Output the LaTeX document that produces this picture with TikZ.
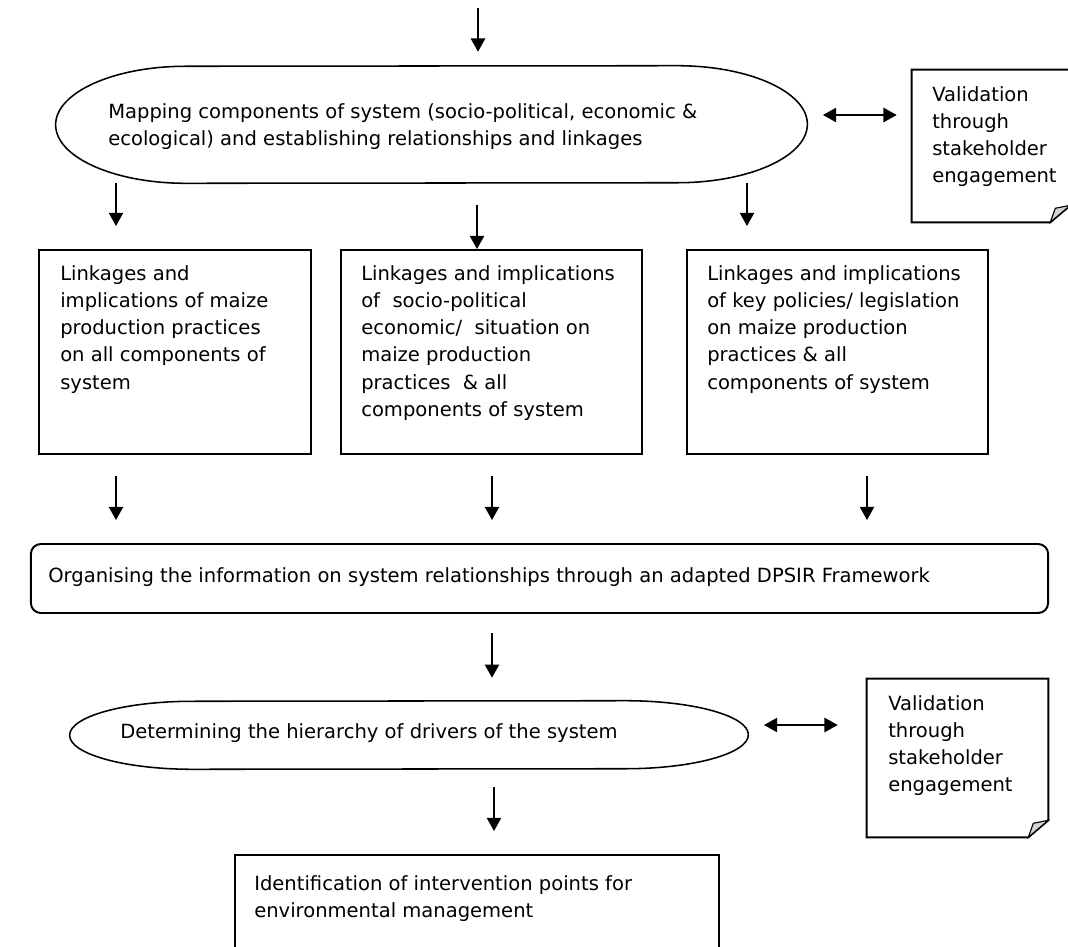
\documentclass[tikz,border=0pt]{standalone}
\usepackage{fontspec}
\setmainfont{DejaVu Sans}
\usepackage{tikz}
\usetikzlibrary{positioning}
\usetikzlibrary{arrows.meta}

\begin{document}
\begin{tikzpicture}[x=0.025cm, y=-0.025cm, >={Triangle[length=0.33cm,width=0.36cm]},
  every node/.style={font=\fontsize{13.9}{19.4}\selectfont},
  txt/.style={inner sep=0pt, align=left},
  box/.style={draw, line width=1.4pt, inner sep=0pt},
  plain/.style={inner sep=0pt},
  ovalline/.style={line width=1.1pt, line join=round},
  noteline/.style={line width=1.4pt},
  flow/.style={->, line width=0.8pt},
  both/.style={<->, line width=0.8pt}]

\useasboundingbox (0,0) rectangle (1068,947);

% mapping step
\node (map) [plain, minimum width=18.775cm, minimum height=2.925cm] at (431.5,124.5) {};
\draw[ovalline] ([xshift=3.25cm]map.south west) arc[start angle=-90, end angle=-270, x radius=3.25cm, y radius=1.4625cm] -- ([xshift=-3.25cm]map.north east) arc[start angle=90, end angle=-90, x radius=3.25cm, y radius=1.4625cm] -- cycle;
\node (maptxt) [txt, anchor=north west] at (108,103) {Mapping components of system (socio-political, economic \&\\ ecological) and establishing relationships and linkages};

% validation note 1
\node (val1) [plain, minimum width=3.95cm, minimum height=3.8cm] at (991,146) {};
\draw[noteline] (val1.north west) -- (val1.north east) -- ([yshift=0.425cm]val1.south east) -- ([xshift=-0.5cm]val1.south east) -- (val1.south west) -- cycle;
\filldraw[fill=gray!35, line width=0.8pt] ([yshift=0.425cm]val1.south east) -- ([xshift=-0.5cm]val1.south east) -- ([shift={(-0.375cm,0.35cm)}]val1.south east) -- cycle;
\node (val1txt) [txt, anchor=north west] at (932,86) {Validation\\ through\\ stakeholder\\ engagement};

% three linkage boxes
\node (links1) [box, minimum width=6.8cm, minimum height=5.1cm] at (175,352) {};
\node (links2) [box, minimum width=7.525cm, minimum height=5.1cm] at (491.5,352) {};
\node (links3) [box, minimum width=7.525cm, minimum height=5.1cm] at (837.5,352) {};
\node (links1txt) [txt, anchor=north west] at (60,265) {Linkages and\\ implications of maize\\ production practices\\ on all components of\\ system};
\node (links2txt) [txt, anchor=north west] at (361,265) {Linkages and implications\\ of \ socio-political\\ economic/ \ situation on\\ maize production\\ practices \ \& all\\ components of system};
\node (links3txt) [txt, anchor=north west] at (707,265) {Linkages and implications\\ of key policies/ legislation\\ on maize production\\ practices \& all\\ components of system};

% DPSIR box
\node (org) [box, rounded corners=0.25cm, minimum width=25.425cm, minimum height=1.725cm] at (539.5,578.5) {};
\node (orgtxt) [txt, anchor=west] at (48,577) {Organising the information on system relationships through an adapted DPSIR Framework};

% drivers step
\node (drv) [plain, minimum width=16.95cm, minimum height=1.7cm] at (409,735) {};
\draw[ovalline] ([xshift=3.075cm]drv.south west) arc[start angle=-90, end angle=-270, x radius=3.075cm, y radius=0.85cm] -- ([xshift=-3.075cm]drv.north east) arc[start angle=90, end angle=-90, x radius=3.075cm, y radius=0.85cm] -- cycle;
\node (drvtxt) [txt, anchor=west] at (120,733) {Determining the hierarchy of drivers of the system};

% validation note 2
\node (val2) [plain, minimum width=4.525cm, minimum height=3.95cm] at (957.5,758) {};
\draw[noteline] (val2.north west) -- (val2.north east) -- ([yshift=0.425cm]val2.south east) -- ([xshift=-0.5cm]val2.south east) -- (val2.south west) -- cycle;
\filldraw[fill=gray!35, line width=0.8pt] ([yshift=0.425cm]val2.south east) -- ([xshift=-0.5cm]val2.south east) -- ([shift={(-0.375cm,0.35cm)}]val2.south east) -- cycle;
\node (val2txt) [txt, anchor=north west] at (888,695) {Validation\\ through\\ stakeholder\\ engagement};

% intervention points
\node (goal) [box, minimum width=12.1cm, minimum height=2.75cm] at (477,910) {};
\node (goaltxt) [txt, anchor=north west] at (254,875) {Identification of intervention points for\\ environmental management};

% arrows
\coordinate (a0) at (478,8);
\coordinate (t1) at (116,183);
\coordinate (t2) at (477,205);
\coordinate (t3) at (747,183);
\coordinate (b1) at (116,476);
\coordinate (b2) at (492,476);
\coordinate (b3) at (867,476);
\coordinate (c1) at (492,633);
\coordinate (c2) at (494,787);
\coordinate (d1) at (823,115);
\coordinate (d2) at (764,725);

\draw[flow, shorten >=0.35cm] (a0) -- (a0 |- map.north);
\draw[flow, shorten >=0.575cm] (t1) -- (t1 |- links1.north);
\draw[flow] (t2) -- (t2 |- links2.north);
\draw[flow, shorten >=0.575cm] (t3) -- (t3 |- links3.north);
\draw[flow, shorten >=0.575cm] (b1) -- (b1 |- org.north);
\draw[flow, shorten >=0.575cm] (b2) -- (b2 |- org.north);
\draw[flow, shorten >=0.575cm] (b3) -- (b3 |- org.north);
\draw[flow, shorten >=0.575cm] (c1) -- (c1 |- drv.north);
\draw[flow, shorten >=0.575cm] (c2) -- (c2 |- goal.north);
\draw[both, shorten >=0.375cm] (d1) -- (d1 -| val1.west);
\draw[both, shorten >=0.725cm] (d2) -- (d2 -| val2.west);

\end{tikzpicture}
\end{document}
